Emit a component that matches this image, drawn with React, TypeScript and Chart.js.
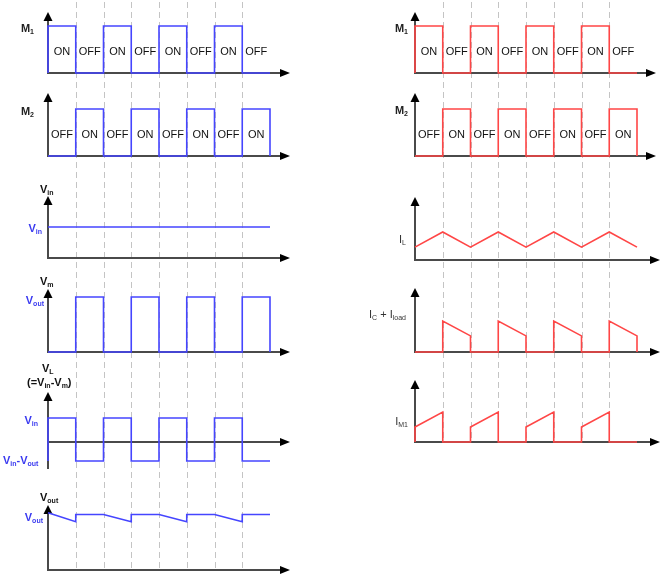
import React, { useEffect, useRef } from 'react';
import { Chart, registerables } from 'chart.js';

Chart.register(...registerables);

// ---------- DATA (time in half-periods, values in per-panel units) ----------
const HALF_PERIODS = [1, 2, 3, 4, 5, 6, 7];

const M1_T = [0, 0, 1, 2, 3, 4, 5, 6, 7, 8];
const M1_V = [0, 1, 0, 1, 0, 1, 0, 1, 0, 0];
const M2_T = [0, 1, 2, 3, 4, 5, 6, 7, 8];
const M2_V = [0, 1, 0, 1, 0, 1, 0, 1, 0];
const M1_TEXT = ['ON', 'OFF', 'ON', 'OFF', 'ON', 'OFF', 'ON', 'OFF'];
const M2_TEXT = ['OFF', 'ON', 'OFF', 'ON', 'OFF', 'ON', 'OFF', 'ON'];

const VIN_T = [0, 8];
const VIN_V = [1, 1];
const VM_T = [0, 1, 2, 3, 4, 5, 6, 7, 8];
const VM_V = [0, 1, 0, 1, 0, 1, 0, 1, 0];
const VL_T = [0, 0, 1, 2, 3, 4, 5, 6, 7, 8];
const VL_V = [-0.79, 1, -0.79, 1, -0.79, 1, -0.79, 1, -0.79, -0.79];
const VOUT_T = [0, 1, 1, 2, 3, 3, 4, 5, 5, 6, 7, 7, 8];
const VOUT_V = [1.03, 0.87, 1, 1, 0.87, 1, 1, 0.87, 1, 1, 0.87, 1, 1];

const IL_T = [0, 1, 2, 3, 4, 5, 6, 7, 8];
const IL_V = [0.46, 1, 0.46, 1, 0.46, 1, 0.46, 1, 0.46];
const IC_T = [0, 1, 1, 2, 2, 3, 3, 4, 4, 5, 5, 6, 6, 7, 7, 8, 8];
const IC_V = [0, 0, 1, 0.52, 0, 0, 1, 0.52, 0, 0, 1, 0.52, 0, 0, 1, 0.52, 0];
const IM1_T = [0, 0, 1, 1, 2, 2, 3, 3, 4, 4, 5, 5, 6, 6, 7, 7, 8];
const IM1_V = [0, 0.5, 1, 0, 0, 0.5, 1, 0, 0, 0.5, 1, 0, 0, 0.5, 1, 0, 0];

// ---------- STYLE / LAYOUT ----------
const BLUE = '#4545ff';
const BLUE_TEXT = '#3a3af0';
const RED = '#ff4646';
const AXIS = '#4a4a4a';
const GRID = '#c4c4c4';
const FONT = '"Liberation Sans", Arial, sans-serif';

const W = 334;
const H = 577;

type Panel = { id: string; base: number; one: number; top: number; bottom?: number; tip: number; onoff?: string[] };
type Label = { text: string; x: number; y: number; align: 'left' | 'right' | 'center'; color: string; bold: boolean; size?: number };

const LEFT_LAYOUT = {
  offsetX: 0,
  x0: 48,
  x8: 270,
  gridTop: 2,
  panels: [
    { id: 'yM1', base: 73, one: 26, top: 12, tip: 290, onoff: M1_TEXT },
    { id: 'yM2', base: 156, one: 109, top: 93, tip: 290, onoff: M2_TEXT },
    { id: 'yVin', base: 258, one: 227, top: 196, tip: 290 },
    { id: 'yVm', base: 352, one: 297, top: 289, tip: 290 },
    { id: 'yVL', base: 442, one: 418, top: 392, bottom: 468, tip: 290 },
    { id: 'yVout', base: 570, one: 514.5, top: 505, tip: 290 },
  ] as Panel[],
  labels: [
    { text: 'M_1', x: 34, y: 29, align: 'right', color: '#222', bold: true },
    { text: 'M_2', x: 34, y: 112, align: 'right', color: '#222', bold: true },
    { text: 'V_{in}', x: 40, y: 190, align: 'left', color: '#111', bold: true },
    { text: 'V_{in}', x: 42, y: 229, align: 'right', color: BLUE_TEXT, bold: true },
    { text: 'V_m', x: 40, y: 282, align: 'left', color: '#111', bold: true },
    { text: 'V_{out}', x: 44, y: 301, align: 'right', color: BLUE_TEXT, bold: true },
    { text: 'V_L', x: 42, y: 369, align: 'left', color: '#111', bold: true },
    { text: '(=V_{in}-V_m)', x: 27, y: 383, align: 'left', color: '#111', bold: true },
    { text: 'V_{in}', x: 38, y: 421, align: 'right', color: BLUE_TEXT, bold: true },
    { text: 'V_{in}-V_{out}', x: 3, y: 461, align: 'left', color: BLUE_TEXT, bold: true },
    { text: 'V_{out}', x: 40, y: 498, align: 'left', color: '#111', bold: true },
    { text: 'V_{out}', x: 43, y: 518, align: 'right', color: BLUE_TEXT, bold: true },
  ] as Label[],
};

const RIGHT_LAYOUT = {
  offsetX: 334,
  x0: 415,
  x8: 637,
  gridTop: 2,
  panels: [
    { id: 'yM1', base: 73, one: 26, top: 12, tip: 656, onoff: M1_TEXT },
    { id: 'yM2', base: 156, one: 109, top: 93, tip: 656, onoff: M2_TEXT },
    { id: 'yIL', base: 260, one: 232, top: 197, tip: 660 },
    { id: 'yIC', base: 352, one: 321, top: 288, tip: 660 },
    { id: 'yIM1', base: 442, one: 412, top: 380, tip: 660 },
  ] as Panel[],
  labels: [
    { text: 'M_1', x: 408, y: 29, align: 'right', color: '#222', bold: true },
    { text: 'M_2', x: 408, y: 111, align: 'right', color: '#222', bold: true },
    { text: 'I_L', x: 406, y: 240, align: 'right', color: '#333', bold: false },
    { text: 'I_C + I_{load}', x: 406, y: 315, align: 'right', color: '#333', bold: false },
    { text: 'I_{M1}', x: 408, y: 422, align: 'right', color: '#333', bold: false },
  ] as Label[],
};

// ---------- helpers ----------
type Seg = { t: string; sub: boolean };
function parseRich(s: string): Seg[] {
  const out: Seg[] = [];
  let buf = '';
  let i = 0;
  while (i < s.length) {
    if (s[i] === '_') {
      if (buf) { out.push({ t: buf, sub: false }); buf = ''; }
      if (s[i + 1] === '{') {
        const j = s.indexOf('}', i);
        out.push({ t: s.slice(i + 2, j), sub: true });
        i = j + 1;
      } else {
        out.push({ t: s[i + 1], sub: true });
        i += 2;
      }
    } else {
      buf += s[i];
      i++;
    }
  }
  if (buf) out.push({ t: buf, sub: false });
  return out;
}

function drawRich(ctx: CanvasRenderingContext2D, l: Label) {
  const size = l.size || 11;
  const weight = l.bold ? 'bold ' : '';
  const mainFont = `${weight}${size}px ${FONT}`;
  const subFont = `${weight}${Math.round(size * 0.64)}px ${FONT}`;
  const segs = parseRich(l.text);
  let w = 0;
  for (const s of segs) { ctx.font = s.sub ? subFont : mainFont; w += ctx.measureText(s.t).width; }
  let cx = l.align === 'right' ? l.x - w : l.align === 'center' ? l.x - w / 2 : l.x;
  ctx.fillStyle = l.color;
  ctx.textAlign = 'left';
  ctx.textBaseline = 'middle';
  for (const s of segs) {
    ctx.font = s.sub ? subFont : mainFont;
    ctx.fillText(s.t, cx, s.sub ? l.y + size * 0.3 : l.y);
    cx += ctx.measureText(s.t).width;
  }
}

const diagramPlugin = {
  id: 'diagram',
  beforeDatasetsDraw(chart: any, _args: any, opts: any) {
    const ctx: CanvasRenderingContext2D = chart.ctx;
    const xs = chart.scales.x;
    const panels: Panel[] = opts.panels;
    const last = panels[panels.length - 1];
    const gridBottom = chart.scales[last.id].getPixelForValue(0);
    ctx.save();
    // dashed timing lines
    ctx.strokeStyle = GRID;
    ctx.lineWidth = 1;
    ctx.setLineDash([6, 4]);
    for (const t of HALF_PERIODS) {
      const px = Math.round(xs.getPixelForValue(t)) + 0.5;
      ctx.beginPath();
      ctx.moveTo(px, opts.gridTop);
      ctx.lineTo(px, gridBottom);
      ctx.stroke();
    }
    ctx.setLineDash([]);
    // axes with arrows
    for (const p of panels) {
      const ys = chart.scales[p.id];
      const xa = Math.round(xs.getPixelForValue(0));
      const yb = Math.round(ys.getPixelForValue(0));
      const tip = p.tip - opts.offsetX;
      ctx.strokeStyle = AXIS;
      ctx.lineWidth = 2;
      ctx.beginPath();
      ctx.moveTo(xa, (p.bottom ?? p.base) + 1);
      ctx.lineTo(xa, p.top + 8);
      ctx.stroke();
      ctx.beginPath();
      ctx.moveTo(xa - 1, yb);
      ctx.lineTo(tip - 9, yb);
      ctx.stroke();
      ctx.fillStyle = '#000';
      ctx.beginPath();
      ctx.moveTo(xa, p.top);
      ctx.lineTo(xa - 4.5, p.top + 9);
      ctx.lineTo(xa + 4.5, p.top + 9);
      ctx.closePath();
      ctx.fill();
      ctx.beginPath();
      ctx.moveTo(tip, yb);
      ctx.lineTo(tip - 10, yb - 4);
      ctx.lineTo(tip - 10, yb + 4);
      ctx.closePath();
      ctx.fill();
    }
    ctx.restore();
  },
  afterDatasetsDraw(chart: any, _args: any, opts: any) {
    const ctx: CanvasRenderingContext2D = chart.ctx;
    const xs = chart.scales.x;
    ctx.save();
    for (const p of opts.panels as Panel[]) {
      if (!p.onoff) continue;
      const ys = chart.scales[p.id];
      p.onoff.forEach((txt, i) => {
        drawRich(ctx, { text: txt, x: xs.getPixelForValue(i + 0.5), y: ys.getPixelForValue(0.45), align: 'center', color: '#111', bold: false });
      });
    }
    for (const l of opts.labels as Label[]) {
      drawRich(ctx, { ...l, x: l.x - opts.offsetX });
    }
    ctx.restore();
  },
};

function series(ts: number[], vs: number[], yAxisID: string, color: string, stepped: boolean) {
  return {
    data: ts.map((t, i) => ({ x: t, y: vs[i] })),
    yAxisID,
    borderColor: color,
    borderWidth: 1.6,
    pointRadius: 0,
    fill: false,
    tension: 0,
    stepped: stepped ? 'before' : false,
  };
}

function buildConfig(layout: any, datasets: any[]) {
  const ppx = (layout.x8 - layout.x0) / 8;
  const x0 = layout.x0 - layout.offsetX;
  const scales: any = {
    x: { type: 'linear', display: false, min: -x0 / ppx, max: (W - x0) / ppx, bounds: 'data' },
  };
  for (const p of layout.panels as Panel[]) {
    const ppu = p.base - p.one;
    scales[p.id] = { type: 'linear', display: false, position: 'left', min: -(H - p.base) / ppu, max: p.base / ppu, bounds: 'data' };
  }
  return {
    type: 'line',
    data: { datasets },
    options: {
      responsive: false,
      animation: false,
      events: [],
      layout: { padding: 0 },
      scales,
      plugins: {
        legend: { display: false },
        tooltip: { enabled: false },
        diagram: { panels: layout.panels, labels: layout.labels, offsetX: layout.offsetX, gridTop: layout.gridTop },
      },
    },
    plugins: [diagramPlugin],
  } as any;
}

export default function App() {
  const leftRef = useRef<HTMLCanvasElement>(null);
  const rightRef = useRef<HTMLCanvasElement>(null);

  useEffect(() => {
    const left = new Chart(leftRef.current!, buildConfig(LEFT_LAYOUT, [
      series(M1_T, M1_V, 'yM1', BLUE, true),
      series(M2_T, M2_V, 'yM2', BLUE, true),
      series(VIN_T, VIN_V, 'yVin', BLUE, false),
      series(VM_T, VM_V, 'yVm', BLUE, true),
      series(VL_T, VL_V, 'yVL', BLUE, true),
      series(VOUT_T, VOUT_V, 'yVout', BLUE, false),
    ]));
    const right = new Chart(rightRef.current!, buildConfig(RIGHT_LAYOUT, [
      series(M1_T, M1_V, 'yM1', RED, true),
      series(M2_T, M2_V, 'yM2', RED, true),
      series(IL_T, IL_V, 'yIL', RED, false),
      series(IC_T, IC_V, 'yIC', RED, false),
      series(IM1_T, IM1_V, 'yIM1', RED, false),
    ]));
    return () => { left.destroy(); right.destroy(); };
  }, []);

  return (
    <div style={{ position: 'fixed', left: 0, top: 0, width: 668, height: 577, background: '#fff' }}>
      <canvas ref={leftRef} width={W} height={H} style={{ position: 'absolute', left: 0, top: 0, width: W, height: H }} />
      <canvas ref={rightRef} width={W} height={H} style={{ position: 'absolute', left: 334, top: 0, width: W, height: H }} />
    </div>
  );
}
